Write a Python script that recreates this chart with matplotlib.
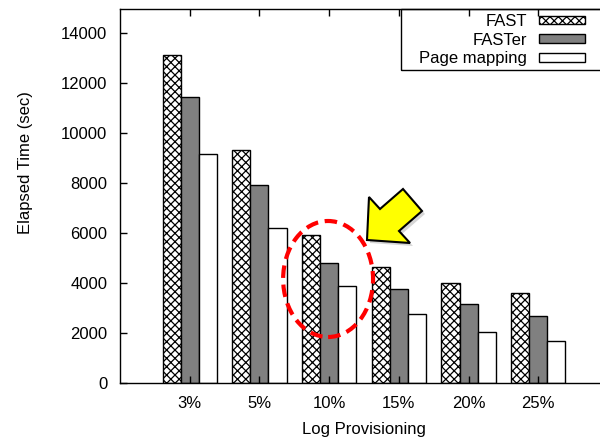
import matplotlib

matplotlib.use("Agg")
import matplotlib.pyplot as plt
import numpy as np
from matplotlib.patches import Ellipse, Polygon, Rectangle

# --- DATA ---
categories = ["3%", "5%", "10%", "15%", "20%", "25%"]
fast = [13100, 9300, 5900, 4650, 4000, 3600]
faster = [11450, 7900, 4800, 3750, 3150, 2700]
page_mapping = [9150, 6200, 3900, 2750, 2050, 1700]
series_names = ["FAST", "FASTer", "Page mapping"]
y_ticks = [0, 2000, 4000, 6000, 8000, 10000, 12000, 14000]

plt.rcParams["font.family"] = ["Liberation Sans", "DejaVu Sans"]
plt.rcParams["hatch.linewidth"] = 0.9
plt.rcParams["hatch.color"] = "black"

fig = plt.figure(figsize=(6.0, 4.4), dpi=100)
# right edge of the frame runs past the picture, as in the source
ax = fig.add_axes([120 / 600, 1 - 383 / 440, 488 / 600, 374 / 440])

x = np.arange(1, len(categories) + 1)
w = 0.26

ax.bar(x - w, fast, w, color="white", edgecolor="black", hatch="xxxx",
       linewidth=1.0, label=series_names[0])
ax.bar(x, faster, w, color="#808080", edgecolor="black",
       linewidth=1.0, label=series_names[1])
ax.bar(x + w, page_mapping, w, color="white", edgecolor="black",
       linewidth=1.0, label=series_names[2])

ax.set_xlim(0, 7)
ax.set_ylim(0, 14960)
ax.set_xticks(x)
ax.set_xticklabels(categories)
ax.set_yticks(y_ticks)

ax.tick_params(axis="both", direction="in", length=5, width=1.0,
               labelsize=12, colors="black")
ax.tick_params(axis="x", top=True, bottom=True, pad=9)
ax.tick_params(axis="y", left=True, right=True, pad=9)
for sp in ax.spines.values():
    sp.set_linewidth(1.0)

ax.set_xlabel("Log Provisioning", fontsize=12)
ax.set_ylabel("Elapsed Time (sec)", fontsize=12)
ax.xaxis.set_label_coords(0.5, -0.105)
ax.yaxis.set_label_coords(-0.178, 0.59)

# gnuplot-style key: text right-aligned, sample on the right
leg = ax.legend(loc="upper right", bbox_to_anchor=(0.964, 1.0),
                borderaxespad=0, markerfirst=False, fontsize=12,
                handlelength=2.8, handleheight=0.42, labelspacing=0.22,
                handletextpad=0.7, borderpad=0.3, frameon=False)
# key box runs off the right edge of the picture
key_box = Rectangle((401 / 600, 1 - 70 / 440), 220 / 600, 61 / 440,
                    transform=fig.transFigure, fill=False,
                    edgecolor="black", linewidth=1.0, zorder=4)
fig.patches.append(key_box)

# red dashed ellipse around the 10% group
ell = Ellipse((2.985, 4160), 1.29, 4640, fill=False, edgecolor="#ff0000",
              linewidth=3.0, linestyle=(0, (3, 1.6)), zorder=5)
ax.add_patch(ell)

# yellow block arrow (pixel outline, drawn in figure coordinates)
arrow_px = [(367, 240), (369, 197), (380, 209), (403, 189),
            (422, 211), (399, 231), (410, 243)]
shadow = Polygon([((px + 3) / 600, 1 - (py + 3) / 440) for px, py in arrow_px],
                 closed=True, transform=fig.transFigure, facecolor="#bbbbbb",
                 edgecolor="none", alpha=0.6, zorder=6)
arrow = Polygon([(px / 600, 1 - py / 440) for px, py in arrow_px],
                closed=True, transform=fig.transFigure, facecolor="#ffff00",
                edgecolor="black", linewidth=1.5, zorder=7)
fig.patches.extend([shadow, arrow])

fig.savefig("out.png", dpi=100)
